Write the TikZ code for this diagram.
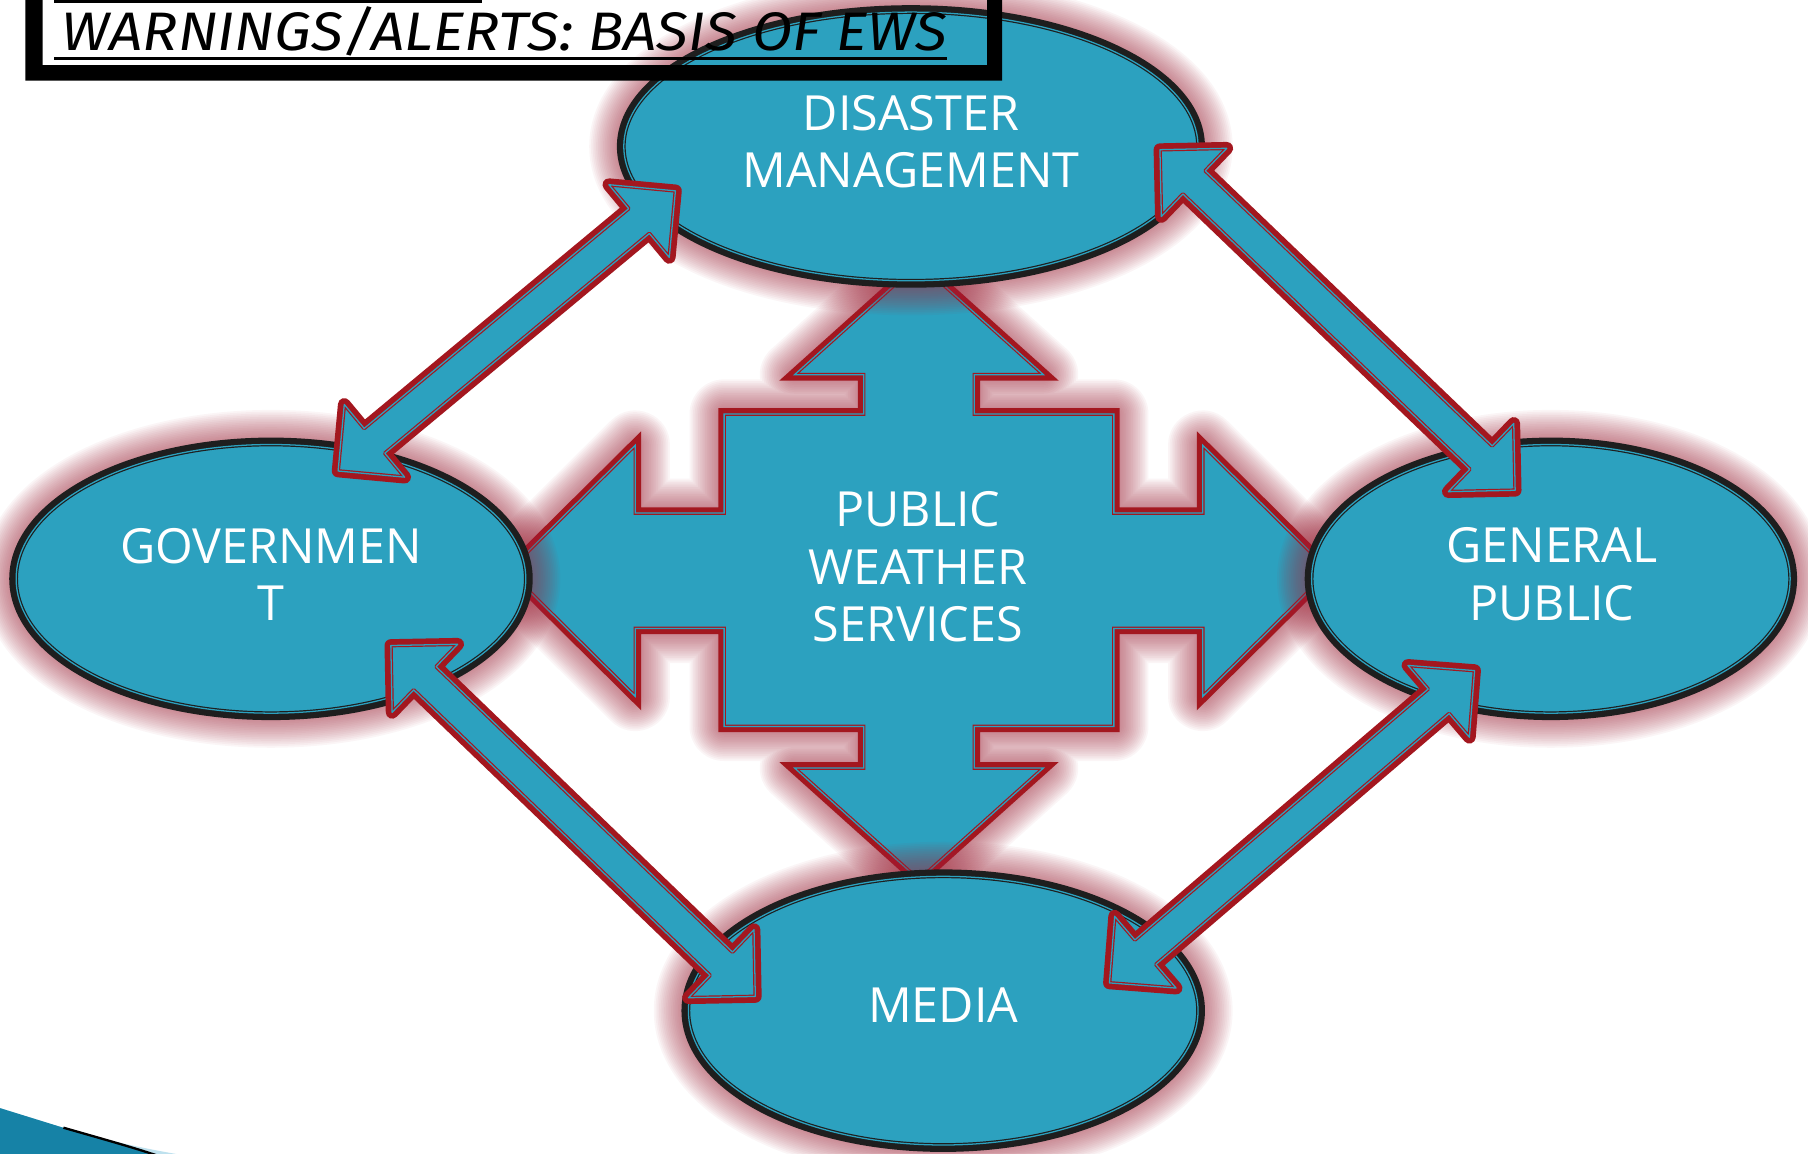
\documentclass[tikz,border=0pt]{standalone}
\usepackage{fontspec}
\usepackage{graphicx}
\setmainfont{Open Sans}
\newfontfamily\titlefont{Fira Sans}
\usetikzlibrary{calc}

\definecolor{tealfill}{RGB}{44,161,191}
\definecolor{redline}{RGB}{163,23,31}
\definecolor{darkline}{RGB}{30,30,30}
\definecolor{glowc}{RGB}{165,45,65}
\definecolor{swoosh}{RGB}{22,130,166}
\definecolor{swooshedge}{RGB}{190,225,238}

\tikzset{
  ovaltext/.style={text=white, align=center, inner sep=0pt,
    font=\fontsize{42pt}{49.7pt}\selectfont},
}

% soft reddish halo: many wide translucent strokes of the same outline
\newcommand\glowpath[1]{%
  \foreach \w in {3,6,...,60}{\draw[draw=glowc, line width=\w pt, opacity=0.042, line join=round] #1;}}

% filled outline with a heavy outer rim, a thin teal gap and a thin inner rim
\newcommand\rimmed[4]{% #1 path, #2 rim colour, #3 line join, #4 outer rim width
  \draw[#2, line width=#4, line join=#3] #1;
  \fill[tealfill] #1;
  \draw[#2, line width=3.2pt, line join=#3] #1;
  \draw[tealfill, line width=1.1pt, line join=#3] #1;}

% block double arrow between two tip coordinates
\newcommand\dblarrow[3]{%
  \coordinate (#3p) at ($(#1)!5.5pt!(#2)$);
  \coordinate (#3q) at ($(#2)!5.5pt!(#1)$);
  \coordinate (#3pm) at ($(#3p)!41pt!(#3q)$);
  \coordinate (#3qm) at ($(#3q)!41pt!(#3p)$);
  \coordinate (#3c1) at ($(#3pm)!41pt!90:(#3q)$);
  \coordinate (#3c2) at ($(#3pm)!14pt!90:(#3q)$);
  \coordinate (#3c3) at ($(#3qm)!14pt!-90:(#3p)$);
  \coordinate (#3c4) at ($(#3qm)!41pt!-90:(#3p)$);
  \coordinate (#3c5) at ($(#3qm)!41pt!90:(#3p)$);
  \coordinate (#3c6) at ($(#3qm)!14pt!90:(#3p)$);
  \coordinate (#3c7) at ($(#3pm)!14pt!-90:(#3q)$);
  \coordinate (#3c8) at ($(#3pm)!41pt!-90:(#3q)$);
  \rimmed{(#3p) -- (#3c1) -- (#3c2) -- (#3c3) -- (#3c4) -- (#3q) -- (#3c5)
    -- (#3c6) -- (#3c7) -- (#3c8) -- cycle}{redline}{round}{11pt}
}

% four-headed stepped arrow in the middle
\def\crosspath{(797,228) -- (905,325) -- (845,325) -- (845,359) -- (966,359) -- (966,445)
  -- (1043,445) -- (1043,386) -- (1153,495) -- (1043,604) -- (1043,545) -- (966,545)
  -- (966,630) -- (845,630) -- (845,666) -- (905,666) -- (797,763) -- (689,666)
  -- (749,666) -- (749,630) -- (628,630) -- (628,545) -- (551,545) -- (551,604)
  -- (441,495) -- (551,386) -- (551,445) -- (628,445) -- (628,359) -- (749,359)
  -- (749,325) -- (689,325) -- cycle}

\begin{document}
\begin{tikzpicture}[x=1pt,y=-1pt]
\useasboundingbox (0,0) rectangle (1568,1000);
\fill[white] (0,0) rectangle (1568,1000);
\clip (0,0) rectangle (1568,1000);

% centres of the four ovals
\coordinate (dmc)  at (790,127);
\coordinate (govc) at (235,502);
\coordinate (gpc)  at (1345,502);
\coordinate (medc) at (818,876.5);

% central stepped arrow
\glowpath{\crosspath}
\rimmed{\crosspath}{redline}{miter}{10pt}

% ovals
\glowpath{(dmc) ellipse [x radius=249, y radius=116.5]}
\glowpath{(govc) ellipse [x radius=221, y radius=116.5]}
\glowpath{(gpc) ellipse [x radius=207.5, y radius=116.5]}
\glowpath{(medc) ellipse [x radius=221, y radius=116.5]}
\rimmed{(dmc) ellipse [x radius=249, y radius=116.5]}{darkline}{round}{12pt}
\rimmed{(govc) ellipse [x radius=221, y radius=116.5]}{darkline}{round}{12pt}
\rimmed{(gpc) ellipse [x radius=207.5, y radius=116.5]}{darkline}{round}{12pt}
\rimmed{(medc) ellipse [x radius=221, y radius=116.5]}{darkline}{round}{12pt}

% labels
\node[ovaltext] (dm)  at (790,123) {DISASTER\\MANAGEMENT};
\node[ovaltext] (gov) at (235,498) {GOVERNMEN\\T};
\node[ovaltext] (gp)  at (1346,498) {GENERAL\\PUBLIC};
\node[ovaltext] (med) at (818,872) {MEDIA};
\node[ovaltext] (pws) at (796,491.5) {PUBLIC\\WEATHER\\SERVICES};

% arrow tips
\coordinate (dmL)  at (590,162);
\coordinate (govU) at (289,412);
\coordinate (dmR)  at (1002,126);
\coordinate (gpU)  at (1318,429);
\coordinate (govD) at (335,556);
\coordinate (medL) at (659,868);
\coordinate (gpD)  at (1283,578);
\coordinate (medR) at (958,856);

\dblarrow{dmL}{govU}{ar1}
\dblarrow{dmR}{gpU}{ar2}
\dblarrow{govD}{medL}{ar3}
\dblarrow{gpD}{medR}{ar4}

% corner swoosh
\fill[swooshedge] (0,961) -- (58,979) .. controls (100,991) and (130,997) .. (160,1002) -- (0,1002) -- cycle;
\fill[swoosh] (0,961) -- (58,979) .. controls (90,988) and (115,995) .. (136,1002) -- (0,1002) -- cycle;
\draw[black, line width=2pt] (55,978) .. controls (90,988) and (115,995) .. (136,1002);

% title frame and heading
\fill[black, even odd rule] (22,-40) rectangle (869,70) (37,-40) rectangle (856,56.5);
\fill[black] (47,-1) rectangle (418,2.4);
\node[anchor=base west, inner sep=0pt] (title) at (53,43.4)
  {\resizebox{768pt}{\height}{\titlefont\itshape\fontsize{47pt}{50pt}\selectfont WARNINGS/ALERTS: BASIS OF EWS}};
\draw[line width=2.6pt] (47,50.7) -- (821,50.7);
\end{tikzpicture}
\end{document}
